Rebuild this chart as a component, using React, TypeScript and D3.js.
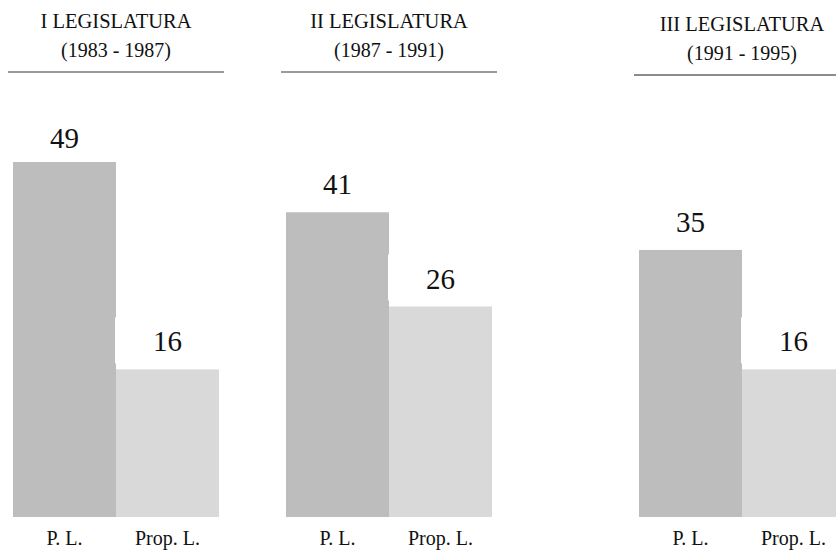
import React from "react";
import * as d3 from "d3";

// values
const legislaturas = ["I LEGISLATURA", "II LEGISLATURA", "III LEGISLATURA"];
const periodos = ["(1983 - 1987)", "(1987 - 1991)", "(1991 - 1995)"];
const tipos = ["P. L.", "Prop. L."];
const proyectos = [49, 41, 35];
const proposiciones = [16, 26, 16];

const width = 836;
const height = 553;
const font = "Liberation Serif, DejaVu Serif, serif";

const colors = d3.scaleOrdinal<string, string>().domain(tipos).range(["#bdbdbd", "#d9d9d9"]);

// groups are not evenly spaced in the original
const groupX = d3.scaleOrdinal<string, number>().domain(legislaturas).range([13, 286, 639]);
const inner = d3.scaleBand().domain(tipos).range([0, 206]);
const y = d3.scaleLinear().domain([-7.5, 49]).range([517, 162]);

const headerShift = [0, 0, 3];
const ruleColor = ["#7a7a7a", "#7a7a7a", "#1a1a1a"];

const App = () => {
  const bw = inner.bandwidth();
  return (
    <svg
      width={width}
      height={height}
      style={{ position: "absolute", left: 0, top: 0, overflow: "hidden", background: "#fff", fontFamily: font }}
    >
      {legislaturas.map((leg, i) => {
        const gx = groupX(leg);
        const cx = gx + inner.range()[1] / 2;
        const vals = [proyectos[i], proposiciones[i]];
        const dy = headerShift[i];
        return (
          <g key={leg}>
            <text x={cx} y={28 + dy} textAnchor="middle" fontSize={20.5} fill="#111">
              {leg}
            </text>
            <text x={cx} y={57 + dy} textAnchor="middle" fontSize={20} fill="#111">
              {periodos[i]}
            </text>
            <line
              x1={cx - 108}
              x2={cx + 108}
              y1={72 + dy}
              y2={72 + dy}
              stroke={ruleColor[i]}
              strokeWidth={i === 2 ? 1.2 : 1.6}
            />
            {tipos.map((t, j) => {
              const x = gx + inner(t);
              const top = y(vals[j]);
              return (
                <rect key={t} x={x} y={top} width={bw} height={y(-7.5) - top} fill={colors(t)} />
              );
            })}
            {tipos.map((t, j) => {
              const x = gx + inner(t);
              const top = y(vals[j]);
              return (
                <g key={t + "-lab"}>
                  <rect x={x - 1} y={top - 52} width={bw + 1} height={46} fill="#fff" />
                  <text
                    x={x + bw / 2}
                    y={top - (j === 0 && i === 0 ? 14 : 18)}
                    textAnchor="middle"
                    fontSize={29}
                    fill="#111"
                  >
                    {vals[j]}
                  </text>
                  <text x={x + bw / 2} y={545} textAnchor="middle" fontSize={20} fill="#111">
                    {t}
                  </text>
                </g>
              );
            })}
          </g>
        );
      })}
    </svg>
  );
};

export default App;
